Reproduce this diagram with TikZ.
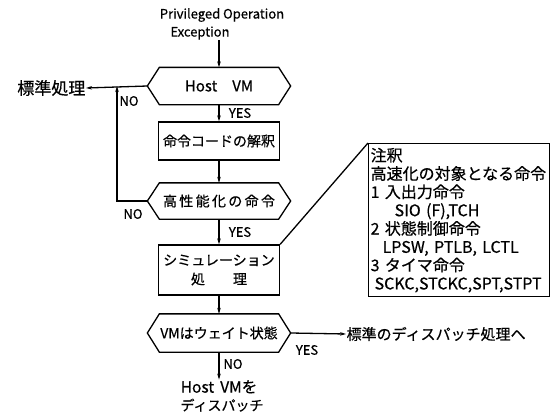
\documentclass[tikz,border=0pt]{standalone}
\usepackage{fontspec}
\setmainfont{Noto Sans CJK JP}[FakeBold=0.5]
\usetikzlibrary{arrows.meta,calc}
\begin{document}
\begin{tikzpicture}[x=1pt,y=-1pt, line width=1.3pt,
  every node/.style={font=\fontsize{14}{16}\selectfont, inner sep=0pt},
  proc/.style={draw, minimum width=121pt},
  hexn/.style={minimum width=142pt, minimum height=36pt},
  hexline/.style={line width=1.3pt, line join=miter},
  arr/.style={-{Stealth[length=6pt,width=3.5pt]}},
  lbl/.style={font=\fontsize{13}{15}\selectfont}
]
\useasboundingbox[fill=white] (0,0) rectangle (550,415);

% start text
\node[font=\fontsize{13}{15}\selectfont] (title) at (222,15) {Privileged Operation};
\node[font=\fontsize{13}{15}\selectfont] (exc) at (200,33) {Exception};

% main column
\node[hexn, font=\fontsize{15}{17}\selectfont] (h1) at (219,86) {Host\quad VM};
\node[proc, minimum height=38pt] (b1) at (219,141) {命令コードの解釈};
\node[hexn, minimum height=35pt] (h2) at (219,201) {高\,性\,能\,化\,の\,命\,令};
\node[proc, minimum height=50pt, align=center, font=\fontsize{14}{19}\selectfont] (b2) at (219,270) {シミュレーション\\処\quad\quad 理};
\node[hexn, minimum height=37pt] (h3) at (219,333) {VMはウェイト状態};
\node[align=center, font=\fontsize{15.5}{18}\selectfont] (fin) at (219,396) {Host\, VMを\\\hspace*{6pt}{\fontsize{14}{18}\selectfont ディスパッチ}};

% hexagon outlines
\foreach \h in {h1,h2,h3}{
  \draw[hexline] (\h.west) -- ($(\h.north west)+(12,0)$) -- ($(\h.north east)+(-12,0)$)
    -- (\h.east) -- ($(\h.south east)+(-12,0)$) -- ($(\h.south west)+(12,0)$) -- cycle;
}

% side texts
\node[anchor=east, font=\fontsize{17}{19}\selectfont] (std) at (86,88) {標準処理};
\node[anchor=west, font=\fontsize{15}{17}\selectfont] (disp) at (346,334) {標準のディスパッチ処理へ};
\coordinate (j) at (117,86);

% note box
\node[draw, anchor=north west, minimum width=181pt, minimum height=153pt,
      text width=177pt, align=left, inner xsep=2pt, inner ysep=2pt,
      font=\fontsize{16}{18.3}\selectfont] (note) at (368,143) {%
注釈\\
高速化の対象となる命令\\
1 入出力命令\\
\hspace*{24pt}SIO (F),TCH\\
2 状態制御命令\\
\hspace*{12pt}LPSW, PTLB, LCTL\\
3 タイマ命令\\
\hspace*{4pt}SCKC,STCKC,SPT,STPT};

% connectors
\draw[arr] (exc.south -| h1.north) -- (h1.north);
\draw[arr] (h1.west) -- (std.east);
\draw[arr] (h1.south) -- (b1.north);
\draw[arr] (b1.south) -- (h2.north);
\draw[arr] (h2.west) -| (j);
\draw[arr] (h2.south) -- (b2.north);
\draw[arr] (b2.south) -- (h3.north);
\draw[arr] (h3.south) -- (fin.north);
\draw[arr] (h3.east) -- (disp.west);
\draw (b2.north east) -- (note.north west);

% labels
\node[lbl] (n1) at (129,101) {NO};
\node[lbl] (y1) at (240,113) {YES};
\node[lbl] (n2) at (133,214) {NO};
\node[lbl] (y2) at (240,232) {YES};
\node[lbl] (y3) at (307,350) {YES};
\node[lbl] (n3) at (233,364) {NO};
\end{tikzpicture}
\end{document}
